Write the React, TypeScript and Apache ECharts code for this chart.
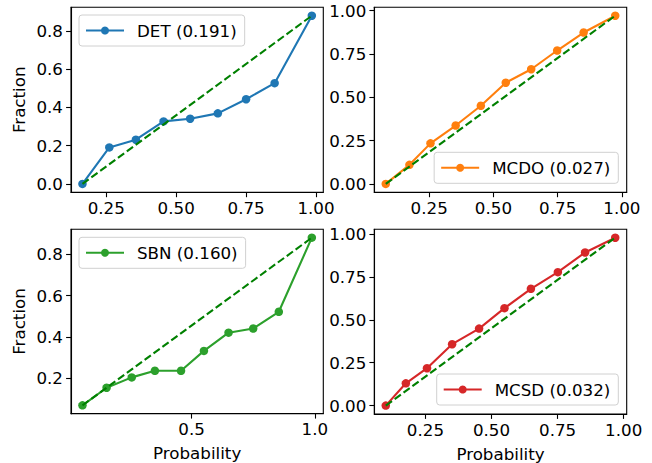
import React, { useEffect, useRef } from "react";
import * as echarts from "echarts";

const methods = ["DET", "MCDO", "SBN", "MCSD"];
const scores = [0.191, 0.027, 0.16, 0.032];
const colors = ["#1f77b4", "#ff7f0e", "#2ca02c", "#d62728"];

const detProb = [0.165, 0.261, 0.356, 0.455, 0.55, 0.649, 0.75, 0.852, 0.985];
const detFrac = [0.0, 0.191, 0.231, 0.327, 0.341, 0.369, 0.443, 0.527, 0.88];

const mcdoProb = [0.081, 0.173, 0.255, 0.353, 0.451, 0.548, 0.647, 0.748, 0.851, 0.974];
const mcdoFrac = [0.0, 0.11, 0.234, 0.337, 0.451, 0.584, 0.662, 0.77, 0.874, 0.971];

const sbnProb = [0.057, 0.155, 0.257, 0.351, 0.457, 0.55, 0.65, 0.75, 0.854, 0.988];
const sbnFrac = [0.07, 0.155, 0.205, 0.237, 0.237, 0.333, 0.421, 0.441, 0.522, 0.88];

const mcsdProb = [0.1, 0.176, 0.256, 0.351, 0.453, 0.549, 0.649, 0.751, 0.854, 0.968];
const mcsdFrac = [0.0, 0.13, 0.218, 0.358, 0.449, 0.568, 0.681, 0.778, 0.893, 0.979];

const xTicksA = [0.25, 0.5, 0.75, 1.0];
const xTicksB = [0.5, 1.0];
const yTicksDet = [0.0, 0.2, 0.4, 0.6, 0.8];
const yTicksMc = [0.0, 0.25, 0.5, 0.75, 1.0];
const yTicksSbn = [0.2, 0.4, 0.6, 0.8];

const FONT = "DejaVu Sans";
const FS = 16.7;

function range(vals: number[]) {
  const lo = Math.min(...vals);
  const hi = Math.max(...vals);
  const m = (hi - lo) * 0.05;
  return { min: lo - m, max: hi + m };
}

export default function App() {
  const ref = useRef<HTMLDivElement>(null);
  useEffect(() => {
    if (!ref.current) return;
    const chart = echarts.init(ref.current, null, { renderer: "svg" });

    const panels = [
      { p: detProb, f: detFrac, xt: xTicksA, xd: 2, yt: yTicksDet, yd: 1, xName: "", yName: "Fraction" },
      { p: mcdoProb, f: mcdoFrac, xt: xTicksA, xd: 2, yt: yTicksMc, yd: 2, xName: "", yName: "" },
      { p: sbnProb, f: sbnFrac, xt: xTicksB, xd: 1, yt: yTicksSbn, yd: 1, xName: "Probability", yName: "Fraction" },
      { p: mcsdProb, f: mcsdFrac, xt: xTicksA, xd: 2, yt: yTicksMc, yd: 2, xName: "Probability", yName: "" },
    ];

    const grids = [
      { left: 71, top: 7.3, width: 252.3, height: 185 },
      { left: 374.3, top: 7.3, width: 252.4, height: 185 },
      { left: 71, top: 229.3, width: 252.3, height: 184.4 },
      { left: 374.3, top: 229.3, width: 252.4, height: 184.7 },
    ].map((g) => ({ ...g, show: true, borderColor: "#000", borderWidth: 1.1, backgroundColor: "#fff" }));

    const axisCommon = {
      type: "value",
      splitLine: { show: false },
      axisLine: { show: true, onZero: false, lineStyle: { color: "#000", width: 1.1 } },
    };

    const xAxis = panels.map((pn, i) => ({
      ...axisCommon,
      gridIndex: i,
      ...range(pn.p),
      name: pn.xName,
      nameLocation: "middle",
      nameGap: 31,
      nameTextStyle: { fontFamily: FONT, fontSize: FS, color: "#000" },
      axisTick: { show: true, length: 4.9, lineStyle: { color: "#000", width: 1.1 }, customValues: pn.xt },
      axisLabel: {
        customValues: pn.xt,
        formatter: (v: number) => v.toFixed(pn.xd),
        fontFamily: FONT,
        fontSize: FS,
        color: "#000",
        margin: 7,
      },
    }));

    const yAxis = panels.map((pn, i) => ({
      ...axisCommon,
      gridIndex: i,
      ...range(pn.f),
      name: pn.yName,
      nameLocation: "middle",
      nameGap: 44,
      nameTextStyle: { fontFamily: FONT, fontSize: FS, color: "#000" },
      axisTick: { show: true, length: 4.9, lineStyle: { color: "#000", width: 1.1 }, customValues: pn.yt },
      axisLabel: {
        customValues: pn.yt,
        formatter: (v: number) => v.toFixed(pn.yd),
        fontFamily: FONT,
        fontSize: FS,
        color: "#000",
        margin: 8,
      },
    }));

    const names = methods.map((m, i) => `${m} (${scores[i].toFixed(3)})`);

    const series: any[] = [];
    panels.forEach((pn, i) => {
      series.push({
        type: "line",
        name: names[i],
        xAxisIndex: i,
        yAxisIndex: i,
        data: pn.p.map((x, k) => [x, pn.f[k]]),
        symbol: "circle",
        symbolSize: 8.5,
        color: colors[i],
        lineStyle: { width: 2.1, color: colors[i] },
        itemStyle: { color: colors[i] },
        z: 2,
      });
      const n = pn.p.length - 1;
      series.push({
        type: "line",
        name: "diag" + i,
        xAxisIndex: i,
        yAxisIndex: i,
        data: [
          [pn.p[0], pn.f[0]],
          [pn.p[n], pn.f[n]],
        ],
        symbol: "none",
        lineStyle: { width: 2.1, color: "#008000", type: [7.7, 3.3] },
        z: 3,
      });
    });

    const legendCommon = {
      orient: "horizontal",
      itemWidth: 38,
      itemHeight: 10,
      padding: [7, 8, 7, 6],
      borderColor: "#d0d0d0",
      borderWidth: 1,
      borderRadius: 3,
      backgroundColor: "rgba(255,255,255,0.8)",
      textStyle: { fontFamily: FONT, fontSize: FS, color: "#000", padding: [0, 0, 0, 8] },
      selectedMode: false,
    };

    const legend = [
      { ...legendCommon, data: [names[0]], left: 79, top: 15 },
      { ...legendCommon, data: [names[1]], right: 33.7, bottom: 279.7 },
      { ...legendCommon, data: [names[2]], left: 79, top: 237.3 },
      { ...legendCommon, data: [names[3]], right: 33.7, bottom: 58 },
    ];

    chart.setOption({
      animation: false,
      backgroundColor: "#fff",
      grid: grids,
      xAxis,
      yAxis,
      legend,
      series,
    });
    return () => chart.dispose();
  }, []);

  return (
    <div
      ref={ref}
      style={{ position: "absolute", left: 0, top: 0, width: 652, height: 463 }}
    />
  );
}
